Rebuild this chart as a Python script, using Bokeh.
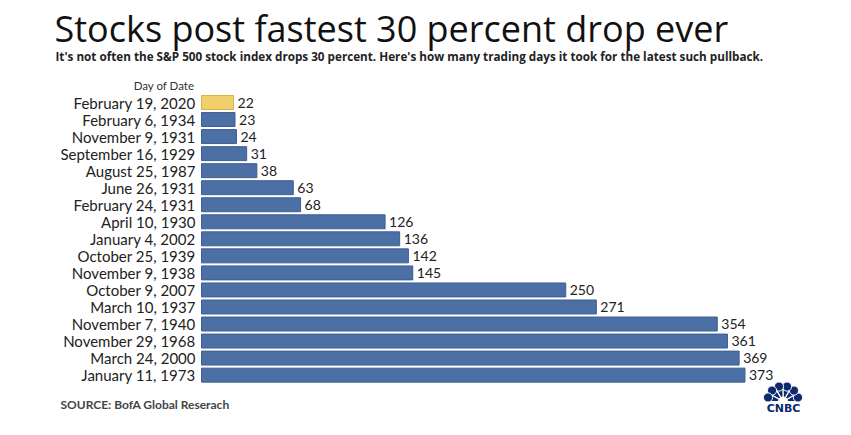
import math
from bokeh.plotting import figure
from bokeh.models import Range1d, Label, ColumnDataSource
from bokeh.embed import file_html
from bokeh.resources import INLINE

# ---- data ----
dates = ["February 19, 2020", "February 6, 1934", "November 9, 1931",
         "September 16, 1929", "August 25, 1987", "June 26, 1931",
         "February 24, 1931", "April 10, 1930", "January 4, 2002",
         "October 25, 1939", "November 9, 1938", "October 9, 2007",
         "March 10, 1937", "November 7, 1940", "November 29, 1968",
         "March 24, 2000", "January 11, 1973"]
days = [22, 23, 24, 31, 38, 63, 68, 126, 136, 142, 145, 250, 271, 354, 361, 369, 373]
highlight = ["February 19, 2020"]

title_text = "Stocks post fastest 30 percent drop ever"
subtitle_text = ("It's not often the S&P 500 stock index drops 30 percent. "
                 "Here's how many trading days it took for the latest such pullback.")
axis_title = "Day of Date"
source_text = "SOURCE: BofA Global Reserach"

BLUE = "#4c70a6"
BLUE_EDGE = "#3d5f93"
YELLOW = "#f1cf6b"
YELLOW_EDGE = "#d9b24f"

idx = list(range(len(dates)))
src = ColumnDataSource(dict(
    y=idx, right=days, label=[str(d) for d in days], name=dates,
    fill=[YELLOW if d in highlight else BLUE for d in dates],
    edge=[YELLOW_EDGE if d in highlight else BLUE_EDGE for d in dates],
))

W, H = 843, 427
OFF = 0          # page offset of the canvas in the screenshot
X0 = 201 - OFF   # canvas px where value 0 sits
PXU = 1.457      # px per trading day
Y0 = 102 - OFF   # canvas px of first row centre
ROW = 17.04      # px per row

xs = -X0 / PXU
ys = -Y0 / ROW
p = figure(width=W, height=H, output_backend="svg", toolbar_location=None,
           x_range=Range1d(xs, xs + W / PXU),
           y_range=Range1d(ys + H / ROW, ys),
           min_border=0)
p.outline_line_color = None
p.background_fill_color = "white"
p.border_fill_color = "white"
p.grid.visible = False
p.axis.visible = False

p.hbar(y="y", left=0, right="right", height=0.82, source=src,
       fill_color="fill", line_color="edge", line_width=1)
p.text(x="right", y="y", text="label", source=src, x_offset=4,
       text_baseline="middle", text_align="left", text_font_size="14px",
       text_color="#222222", text_font={"value": "Lato"})
# category labels
p.text(x=0, y="y", text="name", source=src, x_offset=-6,
       text_baseline="middle", text_align="right", text_font_size="15px",
       text_color="#222222", text_font={"value": "Lato"})


def sx(X):
    return X - OFF


def sy(Y):
    return H - (Y - OFF)


p.add_layout(Label(x=sx(54), y=sy(27.5), x_units="screen", y_units="screen",
                   text=title_text, text_font="Open Sans", text_font_size="36px",
                   text_color="#111111", text_baseline="middle"))
p.add_layout(Label(x=sx(55), y=sy(55), x_units="screen", y_units="screen",
                   text=subtitle_text, text_font="Open Sans", text_font_style="bold",
                   text_font_size="11.7px", text_color="#222222",
                   text_baseline="middle"))
p.add_layout(Label(x=sx(194), y=sy(85), x_units="screen", y_units="screen",
                   text=axis_title, text_font="Lato", text_font_size="11.5px",
                   text_color="#333333", text_baseline="middle", text_align="right"))
p.add_layout(Label(x=sx(60), y=sy(404), x_units="screen", y_units="screen",
                   text=source_text, text_font="Lato", text_font_style="bold",
                   text_font_size="12px", text_color="#444444",
                   text_baseline="middle"))

# ---- CNBC logo (decoration) ----
NAVY = "#0d2a6e"
cx = (782.5 - OFF - X0) / PXU
cy = (401 - OFF - Y0) / ROW
n = 6
for k in range(n):
    a0 = math.pi * k / n
    a1 = math.pi * (k + 1) / n
    p.wedge(x=cx, y=cy, radius=16, radius_units="screen",
            start_angle=a0, end_angle=a1, fill_color=NAVY,
            line_color="white", line_width=1.2)
for k in range(n):
    am = math.pi * (k + 0.5) / n
    p.circle(x=cx + 15.5 * math.cos(am) / PXU, y=cy - 15.5 * math.sin(am) / ROW,
             radius=4.6, radius_units="screen", fill_color=NAVY,
             line_color="white", line_width=1.0)
p.wedge(x=cx, y=cy, radius=4.5, radius_units="screen", start_angle=0,
        end_angle=math.pi, fill_color="white", line_color="white")
p.add_layout(Label(x=sx(783), y=sy(407.5), x_units="screen", y_units="screen",
                   text="CNBC", text_font="DejaVu Sans", text_font_style="bold",
                   text_font_size="11px", text_color=NAVY,
                   text_baseline="middle", text_align="center"))

open("out.html", "w").write(file_html(p, INLINE))
